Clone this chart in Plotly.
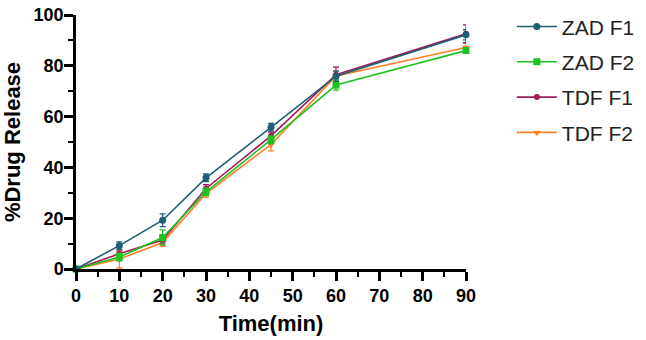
import plotly.graph_objects as go

time = [0, 10, 20, 30, 45, 60, 90]
zad_f1 = [0, 9.2, 19.2, 35.9, 55.8, 75.9, 92.2]
zad_f1_err = [0, 1.5, 2.5, 1.5, 1.5, 2.0, 2.0]
zad_f2 = [0, 4.7, 12.4, 30.4, 50.9, 72.4, 86.0]
zad_f2_err = [0, 1.5, 3.0, 1.5, 1.5, 2.0, 1.0]
tdf_f1 = [0, 6.0, 11.4, 31.7, 52.4, 76.5, 92.6]
tdf_f1_err = [0, 1.0, 1.5, 1.5, 1.5, 3.0, 3.5]
tdf_f2 = [0, 3.9, 10.4, 29.7, 49.0, 76.0, 87.2]
tdf_f2_err = [0, 3.5, 1.5, 1.5, 2.5, 2.0, 1.5]

series = [
    ("ZAD F1", zad_f1, zad_f1_err, "#1D5E73", "circle", 7),
    ("ZAD F2", zad_f2, zad_f2_err, "#1EC21E", "square", 7),
    ("TDF F1", tdf_f1, tdf_f1_err, "#A31A5C", "circle", 6),
    ("TDF F2", tdf_f2, tdf_f2_err, "#FF7F2A", "triangle-down", 7),
]

fig = go.Figure()
for rank, (name, y, err, col, sym, sz) in reversed(list(enumerate(series))):
    fig.add_trace(go.Scatter(
        x=time, y=y, name=name, mode="lines+markers", legendgroup=name,
        legendrank=rank + 1,
        line=dict(color=col, width=1.6),
        marker=dict(symbol=sym, size=sz, color=col),
        error_y=dict(type="data", array=err, color=col, thickness=1.3, width=3),
        cliponaxis=False,
    ))

tick_font = dict(family="Liberation Sans, Arial", size=18, color="black", weight="bold")
fig.update_layout(
    width=646, height=340,
    margin=dict(l=76, r=162, t=6, b=71),
    plot_bgcolor="white", paper_bgcolor="white",
    font=dict(family="Liberation Sans, Arial", color="black"),
    legend=dict(x=1.1176, y=1.034, xanchor="left", yanchor="top",
                font=dict(size=21, color="#222"), traceorder="grouped",
                itemwidth=40, tracegroupgap=5, bgcolor="rgba(0,0,0,0)"),
    xaxis=dict(range=[0, 90], tickvals=list(range(0, 91, 10)), automargin=False,
               showgrid=False, zeroline=False, showline=True, linecolor="black", linewidth=2.5,
               ticks="outside", ticklen=9, tickwidth=2.5, tickcolor="black", tickfont=tick_font,
               minor=dict(tickvals=list(range(5, 90, 10)), ticks="outside", ticklen=5, tickwidth=2, tickcolor="black"),
               title=dict(text="<b>Time(min)</b>", font=dict(size=22), standoff=11)),
    yaxis=dict(range=[0, 100], tickvals=list(range(0, 101, 20)), automargin=False,
               showgrid=False, zeroline=False, showline=True, linecolor="black", linewidth=2.5,
               ticks="outside", ticklen=9, tickwidth=2.5, tickcolor="black", tickfont=tick_font,
               ticklabelstandoff=-3,
               minor=dict(tickvals=list(range(10, 100, 20)), ticks="outside", ticklen=5, tickwidth=2, tickcolor="black"),
               title=dict(text="<b>%Drug Release</b>", font=dict(size=22), standoff=14)),
)
fig.write_html("out.html", config=dict(displayModeBar=False, responsive=False),
               post_script="document.body.style.margin='0';")
